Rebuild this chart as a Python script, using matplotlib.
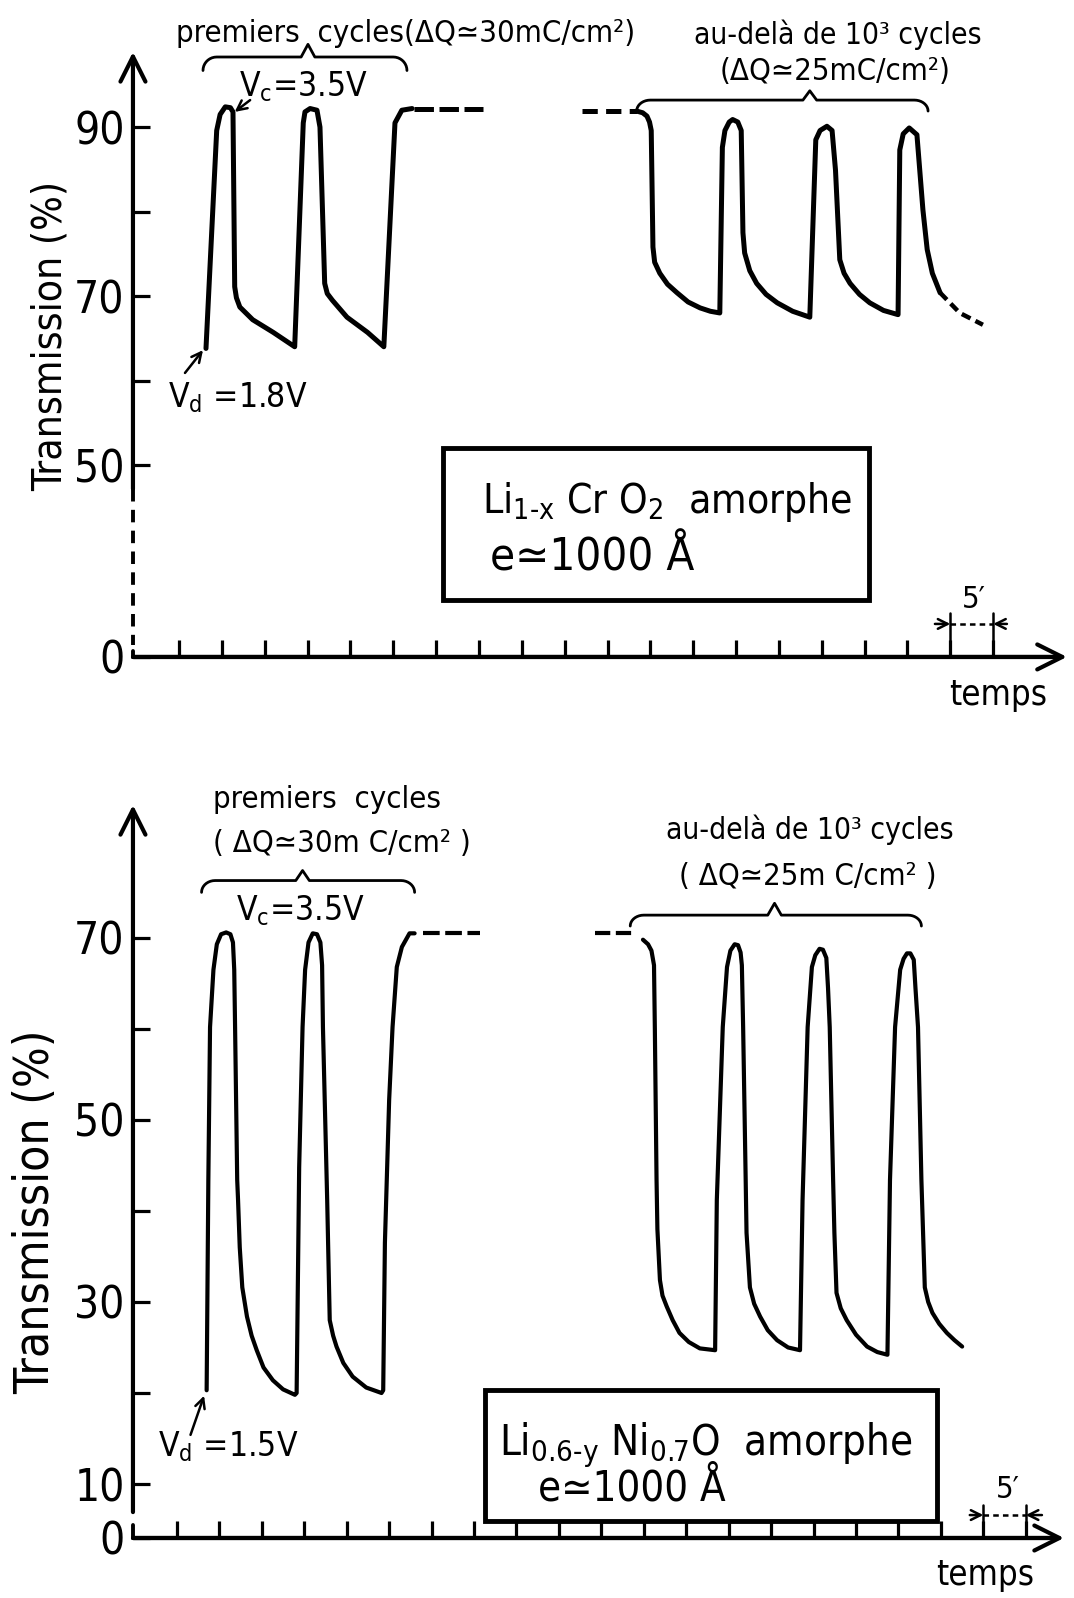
import numpy as np
import matplotlib
matplotlib.use("Agg")
import matplotlib.pyplot as plt
from matplotlib import font_manager
from matplotlib.patches import Rectangle

# pick the narrowest sans family available (the original lettering is condensed)
_fonts = font_manager.fontManager.ttflist
_choices = [('Liberation Sans Narrow', 'normal', 1.0),
            ('DejaVu Sans Condensed', 'normal', 0.86),
            ('DejaVu Sans', 'condensed', 0.86),
            ('Noto Sans', 'condensed', 0.9),
            ('Liberation Sans', 'normal', 0.86)]
FONT, STRETCH, SC = 'DejaVu Sans', 'normal', 0.8
for name, stretch, sc in _choices:
    if any(f.name == name and (stretch == 'normal' or f.stretch == stretch) for f in _fonts):
        FONT, STRETCH, SC = name, stretch, sc
        break

plt.rcParams['font.family'] = [FONT, 'DejaVu Sans']
plt.rcParams['font.stretch'] = STRETCH
plt.rcParams['mathtext.fontset'] = 'custom'
plt.rcParams['mathtext.rm'] = FONT + ':stretch=' + STRETCH
plt.rcParams['mathtext.it'] = FONT + ':stretch=' + STRETCH
plt.rcParams['mathtext.default'] = 'regular'
plt.rcParams['lines.scale_dashes'] = False
plt.rcParams['lines.solid_capstyle'] = 'round'
plt.rcParams['lines.solid_joinstyle'] = 'round'

# ---- Li(1-x)CrO2 : time (min) / transmission (%) ----
cr_first_t = [8.15, 9.4, 9.8, 10.4, 11.0, 11.3, 11.5, 11.7, 12.1, 13.6,
              16.0, 18.5, 19.5, 19.7, 20.3, 21.1, 21.45, 22.0, 22.3, 22.9,
              24.6, 27.0, 28.9, 30.2, 31.0, 32.2]
cr_first_T = [63.8, 89.6, 91.5, 92.4, 92.3, 91.8, 71.1, 69.8, 68.7, 67.2,
              65.7, 64.0, 90.5, 91.8, 92.2, 92.0, 90.0, 71.5, 70.3, 69.5,
              67.5, 65.7, 64.0, 90.5, 92.0, 92.2]
cr_gap_t = [32.4, 40.5]
cr_gap_T = [92.1, 92.1]
cr_lead_t = [52.0, 58.4]
cr_lead_T = [91.9, 91.9]
cr_late_t = [58.4, 59.1, 59.6, 59.9, 60.1, 60.3, 60.5, 61.1, 62.0, 63.1,
             64.4, 65.8, 67.0, 68.1, 68.4, 68.7, 69.2, 69.6, 70.2, 70.6,
             70.8, 71.0, 71.6, 72.4, 73.5, 74.8, 76.6, 78.6, 79.3, 79.8,
             80.6, 81.2, 81.6, 82.1, 82.6, 83.3, 84.4, 85.6, 87.2, 88.9,
             89.1, 89.5, 90.2, 91.1, 91.8, 92.3, 92.9, 93.8]
cr_late_T = [91.9, 91.7, 91.3, 90.6, 89.6, 75.8, 74.0, 72.7, 71.4, 70.4,
             69.3, 68.6, 68.2, 68.0, 87.6, 89.6, 90.6, 90.9, 90.6, 89.6,
             77.5, 75.1, 73.0, 71.5, 70.2, 69.2, 68.2, 67.5, 88.5, 89.6,
             90.1, 89.6, 84.9, 74.3, 72.7, 71.5, 70.2, 69.2, 68.3, 67.8,
             87.3, 89.2, 89.9, 89.1, 80.2, 75.5, 72.7, 70.4]
cr_tail_t = [93.8, 96.1, 98.8]
cr_tail_T = [70.4, 68.0, 66.6]

# ---- Li(0.6-y)Ni(0.7)O ----
ni_first_t = [8.5, 8.7, 8.9, 9.3, 9.7, 10.2, 10.8, 11.3, 11.6, 11.75,
              11.85, 12.1, 12.2, 12.4, 12.7, 13.25, 13.8, 14.4, 15.2, 16.3,
              17.5, 18.9, 19.1, 19.4, 19.8, 20.1, 20.5, 21.0, 21.5, 21.9,
              22.1, 22.2, 22.7, 23.0, 23.4, 23.8, 24.6, 25.7, 27.3, 29.1,
              29.3, 29.5, 30.0, 30.4, 30.9, 31.5, 32.4, 33.0]
ni_first_T = [20.3, 43.4, 60.2, 66.5, 69.3, 70.4, 70.6, 70.4, 69.5, 66.5,
              60.2, 43.4, 41.2, 36.0, 31.6, 28.4, 26.3, 24.7, 22.8, 21.4,
              20.4, 19.8, 20.0, 44.8, 60.2, 66.5, 69.5, 70.5, 70.4, 69.5,
              67.0, 60.2, 41.2, 28.0, 26.3, 25.1, 23.3, 21.8, 20.6, 20.0,
              20.3, 36.5, 52.2, 60.2, 66.8, 69.0, 70.5, 70.5]
ni_gap_t = [34.0, 40.7]
ni_gap_T = [70.5, 70.5]
ni_lead_t = [54.2, 58.6]
ni_lead_T = [70.5, 70.5]
ni_late_t = [59.9, 60.5, 60.9, 61.2, 61.3, 61.5, 61.6, 61.9, 62.2, 62.7,
             63.4, 64.2, 65.3, 66.6, 68.4, 68.6, 69.3, 69.8, 70.2, 70.7,
             71.1, 71.4, 71.55, 71.7, 72.0, 72.1, 72.5, 73.0, 73.7, 74.6,
             75.7, 77.0, 78.4, 78.7, 79.3, 79.8, 80.2, 80.7, 81.1, 81.5,
             81.7, 81.9, 82.3, 82.45, 82.7, 83.2, 83.9, 85.0, 86.3, 87.5,
             88.7, 89.0, 89.6, 90.2, 90.6, 91.0, 91.4, 91.8, 92.0, 92.3,
             92.7, 93.1, 93.5, 94.0, 94.8, 95.7, 96.6, 97.5]
ni_late_T = [69.8, 69.3, 68.6, 67.0, 60.0, 43.4, 38.0, 32.4, 30.7, 29.5,
             28.0, 26.6, 25.6, 24.9, 24.7, 41.2, 60.2, 66.8, 68.6, 69.3,
             69.2, 68.4, 67.0, 60.2, 43.4, 37.6, 31.6, 29.8, 28.4, 26.9,
             25.8, 25.0, 24.7, 41.2, 60.2, 66.8, 68.1, 68.8, 68.7, 67.8,
             64.5, 60.2, 43.4, 37.6, 31.0, 29.3, 28.0, 26.4, 25.1, 24.5,
             24.2, 43.4, 60.2, 66.5, 67.7, 68.3, 68.3, 67.6, 64.5, 60.2,
             43.4, 31.6, 30.0, 28.8, 27.6, 26.6, 25.8, 25.1]

cr_yticks = [0, 50, 60, 70, 80, 90]
cr_ylabels = ['0', '50', '', '70', '', '90']
ni_yticks = [0, 10, 20, 30, 40, 50, 60, 70]
ni_ylabels = ['0', '10', '', '30', '', '50', '', '70']
cr_xticks = list(range(5, 101, 5))
ni_xticks = list(range(5, 106, 5))


def fs(size):
    return size * SC


def broken_scale(brk, k):
    # axis compressed below brk (dashed / shortened part of the axis)
    def fwd(v):
        v = np.asarray(v, dtype=float)
        return np.where(v >= brk, v, brk - (brk - v) * k)

    def inv(v):
        v = np.asarray(v, dtype=float)
        return np.where(v >= brk, v, brk - (brk - v) / k)
    return fwd, inv


def arrow(ax, xy, xytext, lw=3, ms=36, style='->,head_length=0.5,head_width=0.25'):
    ax.annotate('', xy=xy, xytext=xytext, annotation_clip=False,
                arrowprops=dict(arrowstyle=style, lw=lw, color='black',
                                mutation_scale=ms, shrinkA=0, shrinkB=0))


def brace(ax, t0, t1, y_line, y_end, t_tip, y_tip, c=1.6, w=0.8, lw=2.0):
    a = np.linspace(0, np.pi / 2, 10)
    lt = t0 + c * (1 - np.cos(a))
    rt = t1 - c * (1 - np.cos(a))
    yy = y_end + (y_line - y_end) * np.sin(a)
    xs = np.concatenate([lt, [t_tip - w, t_tip, t_tip + w], rt[::-1]])
    ys = np.concatenate([yy, [y_line, y_tip, y_line], yy[::-1]])
    ax.plot(xs, ys, color='black', lw=lw, clip_on=False)


def five_min(ax, t0, t1, y_top, y_bar, t_out_l, t_out_r, label_t, label_y):
    for t in (t0, t1):
        ax.plot([t, t], [0, y_top], color='black', lw=1.8, clip_on=False)
    ax.plot([t0, t1], [y_bar, y_bar], color='black', lw=1.8, dashes=[4, 3],
            clip_on=False)
    arrow(ax, (t0, y_bar), (t_out_l, y_bar), lw=1.8, ms=14)
    arrow(ax, (t1, y_bar), (t_out_r, y_bar), lw=1.8, ms=14)
    ax.text(label_t, label_y, "5\u2032", ha='center', va='center', fontsize=fs(26))


fig = plt.figure(figsize=(10.74, 15.98), dpi=100)
fig.patch.set_facecolor('white')

ax1 = fig.add_axes([0.1238, 0.5889, 0.8696, 0.3786])
ax2 = fig.add_axes([0.1238, 0.03755, 0.8669, 0.4587])

ax1.set_yscale('function', functions=broken_scale(50, 0.4544))
ax2.set_yscale('function', functions=broken_scale(10, 0.593))
ax1.set_xlim(-0.37, 108.6)
ax1.set_ylim(0, 98.9)
ax2.set_xlim(-0.18, 109.5)
ax2.set_ylim(0, 84.6)

for ax, xt, yt, yl in ((ax1, cr_xticks, cr_yticks, cr_ylabels),
                       (ax2, ni_xticks, ni_yticks, ni_ylabels)):
    for s in ax.spines.values():
        s.set_visible(False)
    ax.patch.set_alpha(0)
    ax.set_xticks(xt)
    ax.set_xticklabels([])
    ax.set_yticks(yt)
    ax.set_yticklabels(yl)
    ax.tick_params(direction='in', length=12, width=2.3, labelsize=fs(37), pad=6)

# ---------------- top panel ----------------
xl, xr = ax1.get_xlim()
ax1.plot([xl, xr - 1], [0, 0], color='black', lw=3, clip_on=False)
arrow(ax1, (xr, 0), (xl, 0))
arrow(ax1, (xl, 98.9), (xl, 43.8))
ax1.plot([xl, xl], [43.8, 3.0], color='black', lw=2.8, dashes=[9, 6], clip_on=False)
ax1.plot([xl, xl], [1.5, 0], color='black', lw=2.8, clip_on=False)

ax1.plot(cr_first_t, cr_first_T, color='black', lw=3.6, clip_on=False)
ax1.plot(cr_gap_t, cr_gap_T, color='black', lw=3.6, dashes=[14, 4])
ax1.plot(cr_lead_t, cr_lead_T, color='black', lw=3.6, dashes=[11, 6])
ax1.plot(cr_late_t, cr_late_T, color='black', lw=3.6)
ax1.plot(cr_tail_t, cr_tail_T, color='black', lw=3.2, dashes=[7, 4])

brace(ax1, 7.8, 31.6, 98.3, 96.7, 20.05, 99.8)
brace(ax1, 58.4, 92.4, 93.2, 91.9, 78.6, 94.3)
ax1.text(31.4, 101.1, 'premiers  cycles(ΔQ≃30mC/cm²)', ha='center', va='center',
         fontsize=fs(26))
ax1.text(81.9, 100.9, 'au-delà de 10³ cycles', ha='center', va='center',
         fontsize=fs(25))
ax1.text(81.5, 96.6, '(ΔQ≃25mC/cm²)', ha='center', va='center', fontsize=fs(26))
ax1.text(19.5, 94.8, 'V$_c$=3.5V', ha='center', va='center', fontsize=fs(28))
arrow(ax1, (11.5, 91.8), (13.3, 93.2), lw=1.8, ms=14)
ax1.text(3.7, 58.0, 'V$_d$ =1.8V', ha='left', va='center', fontsize=fs(28))
arrow(ax1, (7.8, 63.6), (5.7, 60.9), lw=1.8, ms=14)

ax1.add_patch(Rectangle((35.8, 14.9), 85.5 - 35.8, 52.0 - 14.9, fill=False,
                        lw=3.5, edgecolor='black', clip_on=False))
ax1.text(40.4, 40.4, r'Li$_{\text{1-x}}$ Cr O$_2$  amorphe', ha='left', va='center',
         fontsize=fs(34))
ax1.text(41.3, 25.8, 'e≃1000 Å', ha='left', va='center', fontsize=fs(38))

five_min(ax1, 95, 100, 11.5, 8.6, 93.2, 101.6, 97.8, 15.0)
ax1.text(100.6, -0.063, 'temps', transform=ax1.get_xaxis_transform(),
         ha='center', va='center', fontsize=fs(29))

# ---------------- bottom panel ----------------
xl, xr = ax2.get_xlim()
ax2.plot([xl, xr - 1], [0, 0], color='black', lw=3, clip_on=False)
arrow(ax2, (xr, 0), (xl, 0))
arrow(ax2, (xl, 84.6), (xl, 4.8))
ax2.plot([xl, xl], [2.4, 0], color='black', lw=2.8, clip_on=False)

ax2.plot(ni_first_t, ni_first_T, color='black', lw=3.0)
ax2.plot(ni_gap_t, ni_gap_T, color='black', lw=3.0, dashes=[12, 4])
ax2.plot(ni_lead_t, ni_lead_T, color='black', lw=3.0, dashes=[11, 4])
ax2.plot(ni_late_t, ni_late_T, color='black', lw=3.0)

brace(ax2, 7.9, 33.0, 76.3, 75.0, 19.8, 77.4)
brace(ax2, 58.4, 92.7, 72.5, 71.3, 75.4, 73.8)
ax2.text(22.7, 85.2, 'premiers  cycles', ha='center', va='center', fontsize=fs(26))
ax2.text(24.4, 80.4, '( ΔQ≃30m C/cm² )', ha='center', va='center', fontsize=fs(26))
ax2.text(79.6, 81.9, 'au-delà de 10³ cycles', ha='center', va='center',
         fontsize=fs(25))
ax2.text(79.3, 76.7, '( ΔQ≃25m C/cm² )', ha='center', va='center', fontsize=fs(26))
ax2.text(19.5, 73.0, 'V$_c$=3.5V', ha='center', va='center', fontsize=fs(28))
ax2.text(2.8, 14.1, 'V$_d$ =1.5V', ha='left', va='center', fontsize=fs(28))
arrow(ax2, (8.2, 19.7), (6.6, 15.4), lw=1.8, ms=14)

ax2.add_patch(Rectangle((41.3, 3.1), 94.5 - 41.3, 20.3 - 3.1, fill=False,
                        lw=3.5, edgecolor='black', clip_on=False))
ax2.text(42.9, 14.3, r'Li$_{\text{0.6-y}}$ Ni$_{0.7}$O  amorphe', ha='left',
         va='center', fontsize=fs(35))
ax2.text(47.5, 9.2, 'e≃1000 Å', ha='left', va='center', fontsize=fs(35))

five_min(ax2, 100, 105, 6.1, 4.25, 98.4, 106.9, 102.9, 8.9)
ax2.text(100.2, -0.05, 'temps', transform=ax2.get_xaxis_transform(),
         ha='center', va='center', fontsize=fs(29))

fig.text(0.047, 0.790, 'Transmission (%)', rotation=90, ha='center', va='center',
         fontsize=fs(34))
fig.text(0.0335, 0.2416, 'Transmission (%)', rotation=90, ha='center', va='center',
         fontsize=fs(40))

fig.savefig('out.png', dpi=100, facecolor='white')
